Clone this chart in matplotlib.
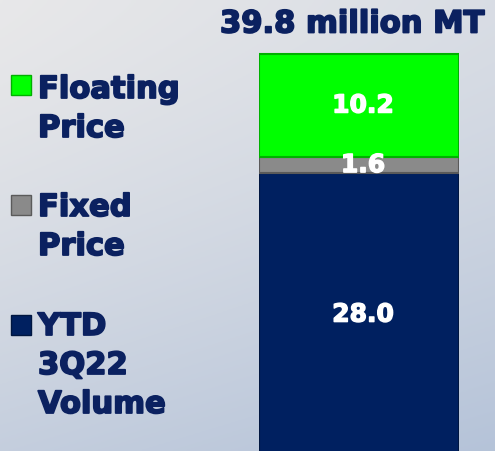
import matplotlib
matplotlib.use("Agg")
import matplotlib.pyplot as plt
import matplotlib.patheffects as pe
import numpy as np
from matplotlib.patches import Rectangle

# data
categories = ["YTD\n3Q22\nVolume", "Fixed\nPrice", "Floating\nPrice"]
values = [28.0, 1.6, 10.2]
colors = ["#002060", "#8a8a8a", "#00ff00"]
edge_colors = ["#001640", "#5a5a5a", "#00b000"]
total_label = "39.8 million MT"

navy = "#0b2160"
thick_navy = [pe.withStroke(linewidth=1.3, foreground=navy)]
thick_white = [pe.withStroke(linewidth=1.0, foreground="white")]

fig = plt.figure(figsize=(4.95, 4.52), dpi=100)

# background gradient (light grey top-left -> blue-grey bottom-right)
bg = fig.add_axes([0, 0, 1, 1], zorder=0)
xx, yy = np.meshgrid(np.linspace(0, 1, 200), np.linspace(0, 1, 200))
t = np.clip(0.3 * xx + 0.7 * yy ** 1.3, 0, 1)
c0 = np.array([0.91, 0.91, 0.915])
c1 = np.array([0.71, 0.765, 0.85])
img = c0[None, None, :] * (1 - t[..., None]) + c1[None, None, :] * t[..., None]
bg.imshow(img, extent=[0, 1, 0, 1], aspect="auto", origin="upper")
bg.axis("off")

ax = fig.add_axes([259 / 495, 0, 200 / 495, 1], zorder=1)
ax.patch.set_alpha(0)
bottom = 0.0
for v, c, ec in zip(values, colors, edge_colors):
    ax.bar(0.5, v, width=1.0, bottom=bottom, color=c, edgecolor=ec, linewidth=1.5)
    ax.text(0.52, bottom + v / 2, f"{v:.1f}", ha="center", va="center",
            color="white", fontsize=18, fontweight="bold", path_effects=thick_white)
    bottom += v
ax.set_xlim(0, 1)
ax.set_ylim(0.5, 45.25)
ax.axis("off")

fig.text(352 / 495, 1 - 25 / 452, total_label, ha="center", va="center",
         color=navy, fontsize=22, fontweight="bold", path_effects=thick_navy)

# legend drawn by hand, top entry first
legend_tops = [99, 217, 336]
marker_centers = [86, 206, 326]
for i, idx in enumerate([2, 1, 0]):
    lines = categories[idx].split("\n")
    for j, line in enumerate(lines):
        fig.text(38 / 495, 1 - (legend_tops[i] + 39 * j) / 452, line,
                 ha="left", va="baseline", color=navy, fontsize=22,
                 fontweight="bold", path_effects=thick_navy)
    yc = marker_centers[i]
    fig.patches.append(Rectangle((11 / 495, 1 - (yc + 10) / 452), 20 / 495, 20 / 452,
                                 transform=fig.transFigure, facecolor=colors[idx],
                                 edgecolor=edge_colors[idx], linewidth=1, zorder=3))

fig.savefig("out.png", dpi=100)
